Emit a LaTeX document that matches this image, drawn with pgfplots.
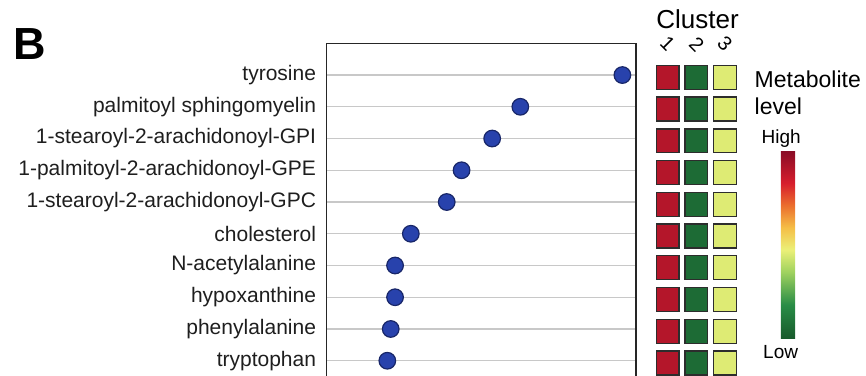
\documentclass[border=0pt]{standalone}
\usepackage{fontspec}
\setmainfont{Liberation Sans}
\usepackage{pgfplots}
\pgfplotsset{compat=1.18}

\definecolor{gridgray}{RGB}{200,200,200}
\definecolor{dotblue}{RGB}{40,66,172}
\definecolor{dotedge}{RGB}{24,38,104}
\definecolor{labelgray}{RGB}{30,30,30}
\definecolor{celledge}{RGB}{45,45,45}

% metabolite level scale: low (green) -> yellow -> high (red)
\pgfplotsset{colormap={metab}{
  rgb255(0)=(24,90,44) rgb255(3)=(40,140,70) rgb255(6)=(160,210,95)
  rgb255(8)=(235,240,120) rgb255(10)=(245,190,70) rgb255(12)=(235,110,45)
  rgb255(14)=(215,30,45) rgb255(17)=(135,12,38)}}

\pgfplotstableread{
x y
95.6 10
62.6 9
53.5 8
43.6 7
38.8 6
27.2 5
22.1 4
22.1 3
20.7 2
19.6 1
}\dotdata

\pgfplotstableread{
x y meta
1 10 0.90
2 10 0.06
3 10 0.45
1 9 0.90
2 9 0.06
3 9 0.45
1 8 0.90
2 8 0.06
3 8 0.45
1 7 0.90
2 7 0.06
3 7 0.45
1 6 0.90
2 6 0.06
3 6 0.45
1 5 0.90
2 5 0.06
3 5 0.45
1 4 0.90
2 4 0.06
3 4 0.45
1 3 0.90
2 3 0.06
3 3 0.45
1 2 0.90
2 2 0.06
3 2 0.45
1 1 0.90
2 1 0.06
3 1 0.45
}\clusterdata

\begin{document}
\begin{tikzpicture}[x=1pt,y=1pt]
\useasboundingbox (0,0) rectangle (866,375);

% dot plot of metabolites
\begin{axis}[
  at={(326.7pt,-1.6pt)}, anchor=south west,
  scale only axis, width=309.3pt, height=333.3pt,
  xmin=0, xmax=100, ymin=0.5, ymax=11,
  xtick=\empty,
  ytick={1,2,3,4,5,6,7,8,9,10},
  yticklabels={tryptophan, phenylalanine, hypoxanthine, N-acetylalanine,
    cholesterol, 1-stearoyl-2-arachidonoyl-GPC, 1-palmitoyl-2-arachidonoyl-GPE,
    1-stearoyl-2-arachidonoyl-GPI, palmitoyl sphingomyelin, tyrosine},
  ymajorgrids,
  major grid style={draw=gridgray, line width=1.3pt},
  major tick length=0pt,
  yticklabel style={font=\fontsize{21}{25}\selectfont, text=labelgray,
    inner sep=0pt, xshift=-10.5pt},
  axis line style={draw=black!85, line width=1.1pt},
  clip=false,
]
\addplot[only marks, mark=*, mark size=8.3pt,
  mark options={fill=dotblue, draw=dotedge, line width=1.2pt}]
  table[x=x, y=y] {\dotdata};
\end{axis}

% cluster heat map with colour scale
\begin{axis}[
  at={(653.4pt,-3.9pt)}, anchor=south west,
  scale only axis, width=86pt, height=333.3pt,
  xmin=0.5, xmax=3.5, ymin=0.5, ymax=11,
  axis line style={draw=none}, xtick=\empty, ytick=\empty,
  colormap name=metab, point meta min=0, point meta max=1,
  colorbar,
  colorbar style={
    at={(parent axis.south east)}, anchor=south west,
    xshift=32.9pt, yshift=40.6pt,
    scale only axis, width=17.7pt, height=188.3pt,
    ytick=\empty, axis line style={draw=none}},
  clip=false,
]
\addplot[scatter, only marks, scatter src=explicit, mark=square*,
  mark size=11.4pt,
  mark options={line width=1.3pt, yscale=1.05},
  scatter/use mapped color={draw=celledge, fill=mapped color}]
  table[x=x, y=y, meta=meta] {\clusterdata};
\end{axis}

\node[anchor=base west, inner sep=0pt, font=\bfseries\fontsize{45}{50}\selectfont]
  at (13,315.7) {B};
\node[anchor=base, inner sep=0pt, font=\fontsize{26}{30}\selectfont]
  at (697.5,346.7) {Cluster};
\node[rotate=-45, inner sep=0pt, font=\fontsize{20}{24}\selectfont] at (667.7,331) {1};
\node[rotate=-45, inner sep=0pt, font=\fontsize{20}{24}\selectfont] at (696.7,331) {2};
\node[rotate=-45, inner sep=0pt, font=\fontsize{20}{24}\selectfont] at (725.0,331) {3};
\node[anchor=base west, inner sep=0pt, font=\fontsize{23}{27}\selectfont]
  at (754.5,287) {Metabolite};
\node[anchor=base west, inner sep=0pt, font=\fontsize{23}{27}\selectfont]
  at (754.5,260) {level};
\node[anchor=base west, inner sep=0pt, font=\fontsize{19}{22}\selectfont]
  at (761.5,231.5) {High};
\node[anchor=base west, inner sep=0pt, font=\fontsize{19}{22}\selectfont]
  at (763,17) {Low};
\end{tikzpicture}
\end{document}
